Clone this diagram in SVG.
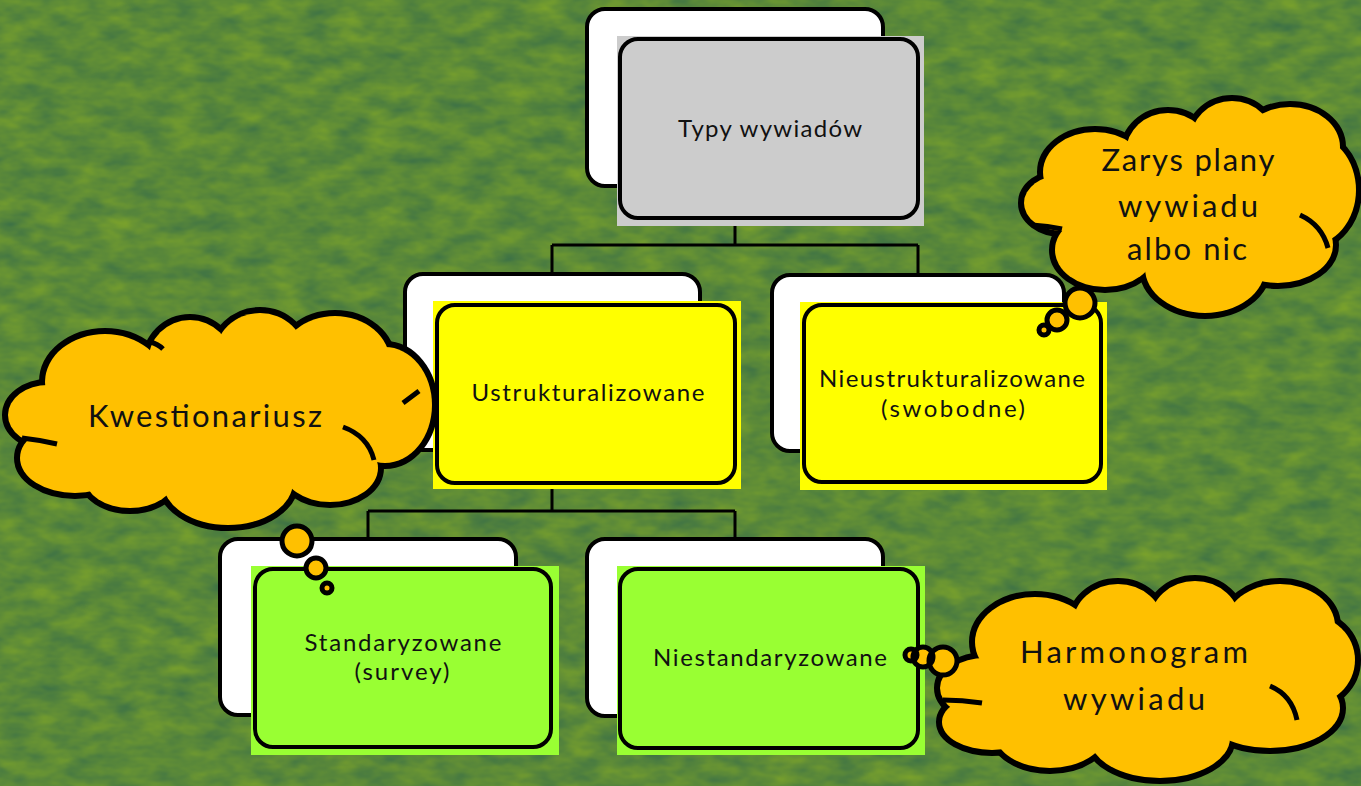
<svg xmlns="http://www.w3.org/2000/svg" xmlns:xlink="http://www.w3.org/1999/xlink" width="1361" height="786" viewBox="0 0 1361 786">
<style>
.back{fill:#ffffff;stroke:#000;stroke-width:4}
.frame{stroke:#000;stroke-width:4}
.lbl{font-family:Lato,"Open Sans","Liberation Sans",sans-serif;font-size:24px;fill:#111;text-anchor:middle}
.ctext{font-family:Lato,"Open Sans","Liberation Sans",sans-serif;font-size:31px;fill:#111;text-anchor:middle}
.conn{stroke:#000;stroke-width:3;fill:none}
.cout{fill:#000;stroke:#000;stroke-width:12}
.cfill{fill:#FFC000;stroke:none}
.crease{fill:none;stroke:#000;stroke-width:5}
.bub{fill:#FFC000;stroke:#000;stroke-width:5}
</style>
<defs>
<filter id="bgtex" x="0" y="0" width="100%" height="100%" color-interpolation-filters="sRGB">
<feTurbulence type="fractalNoise" baseFrequency="0.03 0.06" numOctaves="3" seed="7" result="n"/>
<feColorMatrix in="n" type="matrix" values="0.28 0 0 0 0.22  0.22 0 0 0 0.43  -0.12 0 0 0 0.28  0 0 0 0 1"/>
</filter>
<g id="c1">
<ellipse cx="48" cy="415" rx="40" ry="30"/>
<ellipse cx="75" cy="458" rx="55" ry="35"/>
<ellipse cx="130" cy="478" rx="45" ry="30"/>
<ellipse cx="228" cy="482" rx="65" ry="43"/>
<ellipse cx="330" cy="468" rx="48" ry="34"/>
<ellipse cx="385" cy="405" rx="47" ry="58"/>
<ellipse cx="335" cy="362" rx="55" ry="46"/>
<ellipse cx="260" cy="356" rx="45" ry="43"/>
<ellipse cx="190" cy="362" rx="42" ry="42"/>
<ellipse cx="105" cy="382" rx="60" ry="48"/>
<ellipse cx="220" cy="420" rx="160" ry="70"/>
</g>
<g id="c2">
<ellipse cx="1062" cy="203" rx="38" ry="28"/>
<ellipse cx="1105" cy="250" rx="50" ry="37"/>
<ellipse cx="1205" cy="268" rx="60" ry="45"/>
<ellipse cx="1278" cy="245" rx="55" ry="38"/>
<ellipse cx="1310" cy="190" rx="46" ry="55"/>
<ellipse cx="1290" cy="147" rx="50" ry="40"/>
<ellipse cx="1232" cy="142" rx="42" ry="41"/>
<ellipse cx="1168" cy="152" rx="42" ry="39"/>
<ellipse cx="1095" cy="172" rx="52" ry="40"/>
<ellipse cx="1190" cy="205" rx="130" ry="65"/>
</g>
<g id="c3">
<ellipse cx="985" cy="688" rx="45" ry="30"/>
<ellipse cx="992" cy="722" rx="50" ry="28"/>
<ellipse cx="1050" cy="733" rx="55" ry="35"/>
<ellipse cx="1160" cy="738" rx="70" ry="40"/>
<ellipse cx="1270" cy="708" rx="70" ry="40"/>
<ellipse cx="1308" cy="660" rx="47" ry="45"/>
<ellipse cx="1280" cy="626" rx="55" ry="42"/>
<ellipse cx="1195" cy="622" rx="45" ry="41"/>
<ellipse cx="1118" cy="624" rx="45" ry="40"/>
<ellipse cx="1035" cy="642" rx="60" ry="45"/>
<ellipse cx="1150" cy="680" rx="160" ry="60"/>
</g>
</defs>

<rect x="0" y="0" width="1361" height="786" fill="#5d8a3a"/>
<rect x="0" y="0" width="1361" height="786" filter="url(#bgtex)"/>

<g id="connectors">
<path class="conn" d="M735,220 V245 M552,245 H918 M552,245 V274 M918,245 V275"/>
<path class="conn" d="M552,489 V511 M368,511 H735 M368,511 V539 M735,511 V539"/>
</g>

<g id="node-typy">
<rect class="back" x="587" y="9" width="296" height="177" rx="18"/>
<rect x="617" y="36" width="307" height="190" fill="#cccccc"/>
<rect class="frame" x="620" y="39" width="298" height="179" rx="18" fill="#cccccc"/>
<text class="lbl" x="770" y="137" textLength="184">Typy wywiadów</text>
</g>

<g id="node-ustr">
<rect class="back" x="405" y="274" width="295" height="176" rx="18"/>
<rect x="433" y="301" width="308" height="188" fill="#ffff00"/>
<rect class="frame" x="437" y="305" width="298" height="178" rx="18" fill="#ffff00"/>
<text class="lbl" x="588" y="401" textLength="233">Ustrukturalizowane</text>
</g>

<g id="node-nieustr">
<rect class="back" x="772" y="275" width="292" height="176" rx="18"/>
<rect x="800" y="302" width="307" height="188" fill="#ffff00"/>
<rect class="frame" x="804" y="305" width="297" height="177" rx="18" fill="#ffff00"/>
<text class="lbl" x="952" y="387" textLength="266">Nieustrukturalizowane</text>
<text class="lbl" x="953" y="417" textLength="144">(swobodne)</text>
</g>

<g id="node-stand">
<rect class="back" x="220" y="539" width="296" height="176" rx="18"/>
<rect x="251" y="566" width="308" height="189" fill="#99ff33"/>
<rect class="frame" x="255" y="569" width="296" height="178" rx="18" fill="#99ff33"/>
<text class="lbl" x="403" y="651" textLength="197">Standaryzowane</text>
<text class="lbl" x="402" y="680" textLength="95">(survey)</text>
</g>

<g id="node-niestand">
<rect class="back" x="587" y="539" width="296" height="177" rx="18"/>
<rect x="617" y="566" width="308" height="189" fill="#99ff33"/>
<rect class="frame" x="620" y="569" width="298" height="179" rx="18" fill="#99ff33"/>
<text class="lbl" x="770" y="666" textLength="234">Niestandaryzowane</text>
</g>

<g id="cloud-kwest">
<use xlink:href="#c1" class="cout"/>
<use xlink:href="#c1" class="cfill"/>
<path class="crease" d="M343,427 Q368,436 374,460 M403,403 L419,391 M150,342 Q158,344 163,349 M22,438 Q40,440 57,444"/>
<circle class="bub" cx="297" cy="541" r="15"/>
<circle class="bub" cx="316" cy="568" r="10"/>
<circle class="bub" cx="327" cy="588" r="5"/>
<text class="ctext" x="205" y="427" textLength="234">Kwestionariusz</text>
</g>

<g id="cloud-zarys">
<use xlink:href="#c2" class="cout"/>
<use xlink:href="#c2" class="cfill"/>
<path class="crease" d="M1300,215 Q1322,225 1328,248 M1032,225 Q1048,226 1062,229"/>
<circle class="bub" cx="1080" cy="303" r="15"/>
<circle class="bub" cx="1057" cy="320" r="10"/>
<circle class="bub" cx="1044" cy="330" r="5"/>
<text class="ctext" x="1188" y="171" textLength="173">Zarys plany</text>
<text class="ctext" x="1188" y="217" textLength="140">wywiadu</text>
<text class="ctext" x="1187" y="260" textLength="120">albo nic</text>
</g>

<g id="cloud-harm">
<use xlink:href="#c3" class="cout"/>
<use xlink:href="#c3" class="cfill"/>
<path class="crease" d="M1270,686 Q1292,695 1297,720 M943,700 Q962,700 982,703"/>
<circle cx="943" cy="661" r="14" fill="#FFC000"/>
<circle cx="923" cy="657" r="10" fill="#FFC000"/>
<circle cx="911" cy="655" r="6" fill="#FFC000"/>
<circle cx="943" cy="661" r="14" fill="none" stroke="#000" stroke-width="5"/>
<circle cx="923" cy="657" r="10" fill="none" stroke="#000" stroke-width="5"/>
<circle cx="911" cy="655" r="6" fill="none" stroke="#000" stroke-width="5"/>
<text class="ctext" x="1134" y="663" textLength="228">Harmonogram</text>
<text class="ctext" x="1134" y="710" textLength="142">wywiadu</text>
</g>
</svg>
